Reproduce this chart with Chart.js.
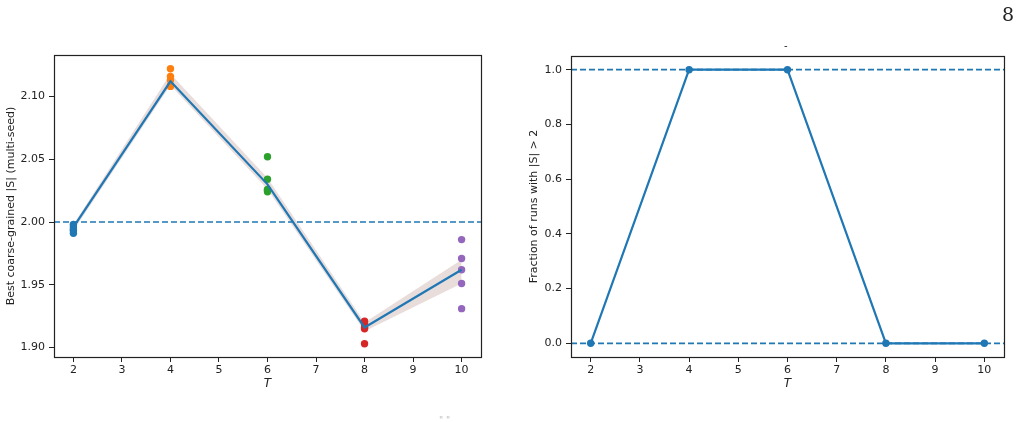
<!DOCTYPE html>
<html>
<head>
<meta charset="utf-8">
<script src="https://cdn.jsdelivr.net/npm/chart.js@4/dist/chart.umd.min.js"></script>
<style>
  body { margin: 0; background: #fff; width: 1019px; height: 422px; overflow: hidden; position: relative; font-family: "DejaVu Sans", sans-serif; }
  .box { position: absolute; top: 0; height: 422px; }
  #leftBox { left: 0; width: 491px; }
  #rightBox { left: 520px; width: 499px; }
  .txt { position: absolute; color: #222; white-space: nowrap; }
</style>
</head>
<body>
<div class="box" id="leftBox"><canvas id="leftChart"></canvas></div>
<div class="box" id="rightBox"><canvas id="rightChart"></canvas></div>
<div class="txt" style="left:1002px; top:3px; font-family:'DejaVu Serif', serif; font-size:19px;">8</div>
<div class="txt" style="left:784px; top:40px; font-size:10px;">-</div>
<div class="txt" style="left:439px; top:415px; font-size:9px; color:#bbb;">" "</div>
<script>
// temperatures T and the seed results for the left panel
var temps = [2, 4, 6, 8, 10];
var seedsT2 = [1.998, 1.996, 1.994, 1.993, 1.991];
var seedsT4 = [2.122, 2.116, 2.113, 2.109, 2.108];
var seedsT6 = [2.052, 2.034, 2.026, 2.025, 2.024];
var seedsT8 = [1.921, 1.919, 1.916, 1.915, 1.903];
var seedsT10 = [1.986, 1.971, 1.962, 1.951, 1.931];
var meanS = [1.996, 2.112, 2.030, 1.916, 1.962];
var bandLow = [1.993, 2.109, 2.026, 1.913, 1.951];
var bandHigh = [1.998, 2.118, 2.035, 1.920, 1.970];
var refLevel = 2.0;

// right panel: fraction of runs with |S| > 2
var fracAbove = [0, 1, 1, 0, 0];
var fracLines = [1.0, 0.0];

var xTicks = [2, 3, 4, 5, 6, 7, 8, 9, 10];
var leftYTicks = [1.90, 1.95, 2.00, 2.05, 2.10];
var rightYTicks = [0.0, 0.2, 0.4, 0.6, 0.8, 1.0];
var xMin = 1.6, xMax = 10.4;

var seedColors = ['#1f77b4', '#ff7f0e', '#2ca02c', '#d62728', '#9467bd'];
var blue = '#1f77b4';
var ink = '#222';

Chart.defaults.font.family = '"DejaVu Sans", sans-serif';
Chart.defaults.font.size = 11;
Chart.defaults.color = ink;
Chart.defaults.animation = false;

// draws the full box round the plot area like matplotlib spines
var frame = {
  id: 'frame',
  afterDraw: function(chart) {
    var a = chart.chartArea, c = chart.ctx;
    c.save();
    c.strokeStyle = ink;
    c.lineWidth = 1.2;
    c.strokeRect(Math.round(a.left) + 0.5, Math.round(a.top) + 0.5, Math.round(a.right - a.left), Math.round(a.bottom - a.top));
    c.restore();
  }
};

function pts(ys) {
  return temps.map(function(t, i) { return { x: t, y: ys[i] }; });
}
function hline(v) {
  return [{ x: xMin, y: v }, { x: xMax, y: v }];
}

function xScale(titlePad) {
  return {
    type: 'linear', min: xMin, max: xMax,
    afterBuildTicks: function(s) { s.ticks = xTicks.map(function(v) { return { value: v }; }); },
    afterFit: function(s) { s.height = 65; },
    ticks: { padding: 2, color: ink, callback: function(v) { return v; } },
    grid: { drawOnChartArea: false, tickLength: 5, tickColor: ink },
    border: { display: false },
    title: { display: true, text: 'T', font: { style: 'italic', size: 12 }, padding: { top: 0, bottom: titlePad } }
  };
}

function yScale(min, max, ticks, digits, label, width, titlePad) {
  return {
    type: 'linear', min: min, max: max,
    afterBuildTicks: function(s) { s.ticks = ticks.map(function(v) { return { value: v }; }); },
    afterFit: function(s) { s.width = width; },
    ticks: { padding: 4, color: ink, callback: function(v) { return v.toFixed(digits); } },
    grid: { drawOnChartArea: false, tickLength: 5, tickColor: ink },
    border: { display: false },
    title: { display: true, text: label, padding: { top: titlePad, bottom: 0 } }
  };
}

var seedSets = [seedsT2, seedsT4, seedsT6, seedsT8, seedsT10];
var leftData = [];
leftData.push({ type: 'line', data: pts(bandLow), borderWidth: 0, pointRadius: 0, fill: false, order: 5 });
leftData.push({ type: 'line', data: pts(bandHigh), borderWidth: 0, pointRadius: 0, fill: '-1', backgroundColor: 'rgba(140,86,75,0.2)', order: 4 });
leftData.push({ type: 'line', data: hline(refLevel), borderColor: blue, borderWidth: 1.7, borderDash: [6, 3], pointRadius: 0, order: 3 });
for (var i = 0; i < temps.length; i++) {
  var ds = seedSets[i].map(function(v) { return { x: temps[i], y: v }; });
  leftData.push({ type: 'scatter', data: ds, pointRadius: 3.7, backgroundColor: seedColors[i], borderWidth: 0, order: 2 });
}
leftData.push({ type: 'line', data: pts(meanS), borderColor: blue, borderWidth: 2.2, pointRadius: 0, order: 1 });

new Chart(document.getElementById('leftChart'), {
  type: 'scatter',
  data: { datasets: leftData },
  options: {
    responsive: true, maintainAspectRatio: false,
    layout: { padding: { top: 55, right: 10, left: 0, bottom: 0 } },
    plugins: { legend: { display: false }, tooltip: { enabled: false } },
    scales: {
      x: xScale(31),
      y: yScale(1.8925, 2.133, leftYTicks, 2, 'Best coarse-grained |S| (multi-seed)', 54, 5)
    }
  },
  plugins: [frame]
});

var rightData = [];
fracLines.forEach(function(v) {
  rightData.push({ type: 'line', data: hline(v), borderColor: blue, borderWidth: 1.7, borderDash: [6, 3], pointRadius: 0, order: 2 });
});
rightData.push({ type: 'line', data: pts(fracAbove), borderColor: blue, backgroundColor: blue, borderWidth: 2.2, pointRadius: 3.7, pointBorderWidth: 0, order: 1 });

new Chart(document.getElementById('rightChart'), {
  type: 'scatter',
  data: { datasets: rightData },
  options: {
    responsive: true, maintainAspectRatio: false,
    layout: { padding: { top: 56, right: 15, left: 0, bottom: 0 } },
    plugins: { legend: { display: false }, tooltip: { enabled: false } },
    scales: {
      x: xScale(31),
      y: yScale(-0.05, 1.05, rightYTicks, 1, 'Fraction of runs with |S| > 2', 51, 8)
    }
  },
  plugins: [frame]
});
</script>
</body>
</html>
